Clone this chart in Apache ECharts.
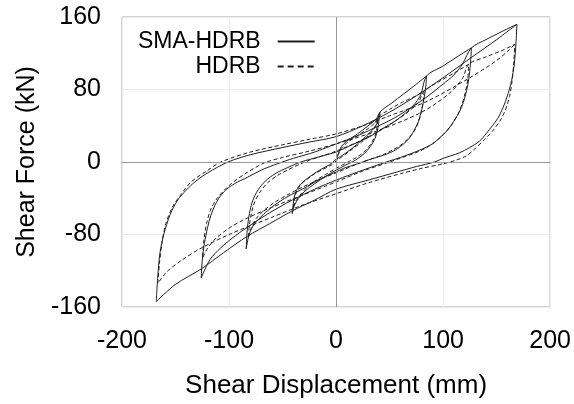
<!DOCTYPE html>
<html lang="en">

<head>
  <meta charset="UTF-8">
  <script src="https://cdn.jsdelivr.net/npm/echarts@6/dist/echarts.min.js"></script>
  <title>Shear hysteresis</title>
  <style>
    html,
    body {
      padding: 0;
      margin: 0;
      background: #fff;
    }

    main {
      width: 574px;
      height: 404px;
    }
  </style>
</head>

<body>
  <main></main>
</body>
<script>
  // [displacement mm, force kN], one array per amplitude stage
  const sma40 = [
    [0, 0], [2, 9], [5, 17], [10, 23], [20, 31], [30, 40], [37, 47], [41, 55],
    [40, 45], [38.5, 34], [36, 25], [32, 17], [26, 9], [18, 2], [8, -4], [0, -9], [-10, -16], [-20, -24], [-29, -32], [-35, -40], [-39, -48], [-41, -57],
    [-40, -46], [-38.5, -36], [-35, -27], [-30, -21], [-22, -14], [-14, -8], [-6, -3], [0, 3], [8, 9], [16, 16], [24, 24], [32, 33], [38, 42], [41, 55]
  ]
  const sma85 = [
    [52, 65], [63, 75], [74, 85], [84.6, 95],
    [84, 85], [82.5, 72], [80, 58], [77, 45], [73, 35], [67.5, 25], [60, 17], [53.6, 12], [43, 7], [32, 3], [20, -2], [7, -7], [0, -11], [-15, -19], [-30, -29], [-45, -38], [-58, -48], [-68, -58], [-76, -68], [-81, -79], [-84, -96],
    [-83, -75], [-81, -57], [-78, -43], [-73, -31], [-66, -21], [-57, -13], [-45, -6], [-33, 0], [-15, 6], [0, 11], [15, 19], [30, 27], [45, 38], [55, 45], [65, 54], [72, 62], [79, 74], [84.6, 95]
  ]
  const sma125 = [
    [100, 106], [113, 116], [126.5, 126],
    [125.5, 108], [124, 92], [122, 79], [119, 66], [115, 55], [110, 45], [104, 35], [97, 27], [90, 20], [78, 13], [60, 5], [47, 0], [25, -9], [0, -20], [-20, -30], [-41, -42], [-62, -56], [-83, -72], [-97, -84], [-108, -95], [-118, -108], [-126, -128],
    [-125, -108], [-123, -90], [-120, -72], [-117, -59], [-112, -45], [-105, -33], [-95, -24], [-83, -17], [-70, -9], [-55, -2], [-40, 4], [-20, 11], [0, 20], [20, 29], [40, 40], [55, 49], [70, 60], [85, 72], [100, 86], [110, 96], [118, 108], [126.5, 126]
  ]
  const sma170 = [
    [140, 135], [155, 144], [169, 152],
    [168, 130], [166.5, 108], [164, 90], [160, 73], [156, 60], [151, 48], [146, 40], [140, 31], [134, 23], [125, 16], [115, 10], [100, 4], [92, 0], [75, -5], [57, -11], [30, -20], [0, -30], [-20, -42], [-41, -54], [-62, -68], [-83, -82], [-105, -100], [-126, -118], [-150, -135], [-168, -154],
    [-166.5, -125], [-164.5, -100], [-161, -80], [-155, -58], [-148, -42], [-140, -31], [-132, -22], [-120, -12], [-101, 0], [-80, 8], [-50, 16], [-25, 22], [0, 28], [25, 40], [50, 55], [75, 73], [100, 93], [126, 115], [150, 135], [169, 152]
  ]

  const hdrb40 = [
    [0, 0], [2, 8], [5, 15], [10, 21], [20, 29], [30, 37], [36, 43], [39, 49],
    [38.5, 40], [37, 31], [34, 23], [30, 16], [24, 9], [16, 3], [8, -2], [0, -7], [-10, -14], [-20, -21], [-28, -29], [-34, -37], [-38, -44], [-40, -51.5],
    [-39, -42], [-37, -33], [-33, -25], [-27, -19], [-20, -13], [-12, -8], [-4, -3], [0, 1], [8, 8], [16, 15], [24, 22], [31, 30], [36, 38], [39, 49]
  ]
  const hdrb85 = [
    [50, 58], [62, 66], [73, 72], [82, 78],
    [81.5, 68], [80, 57], [77.5, 46], [74, 36], [69, 28], [62, 20], [54, 14], [44, 8], [32, 3], [20, -2], [8, -8], [0, -12], [-15, -19], [-30, -27], [-45, -36], [-58, -45], [-68, -54], [-75, -63], [-79, -72], [-82, -84],
    [-81, -70], [-79, -56], [-76, -44], [-71, -33], [-64, -23], [-55, -15], [-44, -8], [-33, -2], [-25, 2], [-12, 7], [0, 12], [20, 22], [40, 34], [55, 45], [68, 56], [77, 66], [82, 78]
  ]
  const hdrb125 = [
    [95, 88], [110, 98], [124, 108],
    [123, 92], [121, 78], [118, 65], [114, 53], [108, 41], [100, 30], [90, 20], [78, 12], [62, 5], [50, 0], [25, -10], [0, -22], [-30, -36], [-60, -50], [-85, -63], [-100, -73], [-112, -84], [-120, -95], [-124.7, -106],
    [-123.5, -86], [-121, -68], [-117, -52], [-111, -40], [-100, -26], [-85, -13], [-67, -1], [-50, 5], [-25, 12], [0, 20], [40, 35], [80, 55], [105, 75], [118, 92], [124, 108]
  ]
  const hdrb170 = [
    [140, 116], [155, 123], [167, 130],
    [166, 110], [164.5, 90], [162, 72], [158, 57], [153, 45], [146, 34], [138, 24], [130, 15], [122, 7], [112, 2], [100, -2], [80, -7], [60, -13], [30, -23], [0, -35], [-30, -47], [-60, -61], [-98, -79], [-126, -95], [-145, -109], [-158, -121], [-166.5, -134],
    [-165, -112], [-162.5, -88], [-159, -68], [-153, -50], [-145, -36], [-135.5, -22], [-121, -10], [-107.6, 0], [-80, 11], [-50, 19], [-25, 25], [0, 31], [25, 40], [50, 51], [85, 67], [125, 93], [150, 112], [162, 124], [167, 130]
  ]

  const smaPath = [...sma40, ...sma85, ...sma125, ...sma170]
  const hdrbPath = [...hdrb40, ...hdrb85, ...hdrb125, ...hdrb170]

  const font = '"Liberation Sans", Arial, sans-serif'
  const ink = '#1e1e1e'

  const option = {
    animation: false,
    textStyle: { fontFamily: font },
    grid: {
      left: 122,
      top: 17,
      width: 429,
      height: 292,
      show: true,
      borderColor: '#a8a8a8',
      borderWidth: 1
    },
    legend: {
      orient: 'vertical',
      left: 138,
      top: 30,
      padding: 0,
      itemGap: 2,
      align: 'right',
      itemWidth: 37,
      itemHeight: 14,
      // hide the marker circle ECharts adds to line icons
      itemStyle: { color: 'rgba(0,0,0,0)', borderColor: 'rgba(0,0,0,0)', borderWidth: 0 },
      textStyle: { fontSize: 23, color: '#000', fontFamily: font, padding: [0, 12, 0, 0] },
      data: [
        { name: 'SMA-HDRB' },
        { name: 'HDRB', lineStyle: { type: [6, 4] } }
      ]
    },
    xAxis: {
      type: 'value',
      min: -200,
      max: 200,
      interval: 100,
      name: 'Shear Displacement (mm)',
      nameLocation: 'middle',
      nameGap: 66,
      nameTextStyle: { fontSize: 26, color: '#000', fontFamily: font },
      axisLine: { show: false },
      axisTick: { show: false },
      axisLabel: { fontSize: 25, color: '#000', margin: 22, fontFamily: font },
      splitLine: { lineStyle: { color: '#ebebeb' } }
    },
    yAxis: {
      type: 'value',
      min: -160,
      max: 160,
      interval: 80,
      name: 'Shear Force (kN)',
      nameLocation: 'middle',
      nameGap: 78,
      nameTextStyle: { fontSize: 25, color: '#000', fontFamily: font },
      axisLine: { show: false },
      axisTick: { show: false },
      axisLabel: { fontSize: 25, color: '#000', margin: 21, fontFamily: font },
      splitLine: { lineStyle: { color: '#ebebeb' } }
    },
    series: [
      {
        name: 'SMA-HDRB',
        type: 'line',
        data: smaPath,
        symbol: 'none',
        smooth: 0.3,
        lineStyle: { color: ink, width: 1 },
        itemStyle: { color: ink },
        markLine: {
          silent: true,
          symbol: 'none',
          label: { show: false },
          lineStyle: { color: '#999', type: 'solid', width: 1 },
          data: [{ xAxis: 0 }, { yAxis: 0 }]
        }
      },
      {
        name: 'HDRB',
        type: 'line',
        data: hdrbPath,
        symbol: 'none',
        smooth: 0.3,
        lineStyle: { color: ink, width: 1, type: [4, 2.5] },
        itemStyle: { color: ink }
      }
    ]
  }

  const ins = echarts.init(document.getElementsByTagName('main')[0])
  ins.setOption(option)
</script>

</html>
